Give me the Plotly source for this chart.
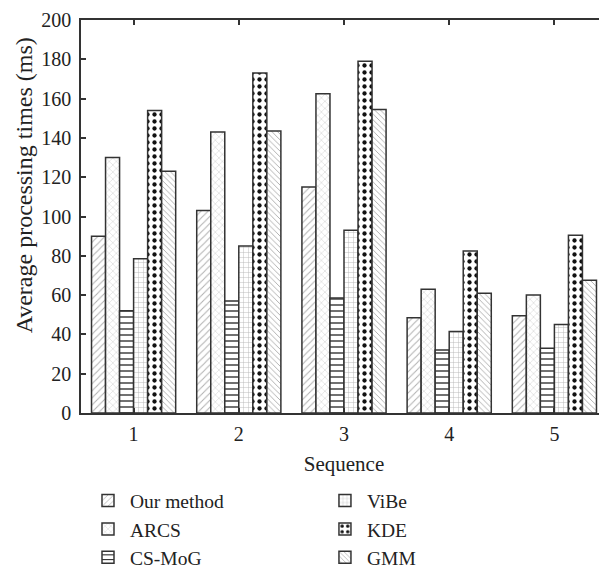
import plotly.graph_objects as go

sequences = [1, 2, 3, 4, 5]
our_method = [90, 103, 115, 48.5, 49.5]
arcs = [130, 143, 162.5, 63, 60]
cs_mog = [52, 57, 58.5, 32, 33]
vibe = [78.5, 85, 93, 41.5, 45]
kde = [154, 173, 179, 82.5, 90.5]
gmm = [123, 143.5, 154.5, 61, 67.5]

series = [
    ("Our method", our_method, dict(shape="/", fgcolor="#b0b0b0", size=5, solidity=0.2), "legend"),
    ("ARCS", arcs, dict(shape="x", fgcolor="#d0d0d0", size=5, solidity=0.2), "legend"),
    ("CS-MoG", cs_mog, dict(shape="-", fgcolor="#111111", size=6, solidity=0.2), "legend"),
    ("ViBe", vibe, dict(shape="+", fgcolor="#b8b8b8", size=5, solidity=0.18), "legend2"),
    ("KDE", kde, dict(shape=".", fgcolor="#111111", size=7, solidity=0.3), "legend2"),
    ("GMM", gmm, dict(shape="\\", fgcolor="#a8a8a8", size=4, solidity=0.22), "legend2"),
]

fig = go.Figure()
for name, vals, pat, lg in series:
    p = dict(pat)
    p["bgcolor"] = "white"
    p["fillmode"] = "replace"
    fig.add_trace(go.Bar(
        x=sequences, y=vals, name=name, legend=lg,
        marker=dict(color="white", pattern=p, line=dict(color="#333333", width=1.5)),
    ))

tick_font = dict(family="Liberation Serif", size=20, color="#222222")
font = dict(family="Liberation Serif", size=21, color="#222222")
leg_font = dict(family="Liberation Serif", size=19.5, color="#222222")
fig.update_layout(
    width=599, height=560,
    margin=dict(l=73, r=0, t=12, b=155, autoexpand=False),
    paper_bgcolor="white", plot_bgcolor="white",
    barmode="group", bargap=0.2, bargroupgap=0,
    font=font,
    showlegend=True,
    legend=dict(x=0.0095, y=-0.174, xanchor="left", yanchor="top", orientation="v",
                font=leg_font, itemwidth=34, tracegroupgap=0, bgcolor="rgba(0,0,0,0)"),
    legend2=dict(x=0.46, y=-0.174, xanchor="left", yanchor="top", orientation="v",
                 font=leg_font, itemwidth=34, tracegroupgap=0, bgcolor="rgba(0,0,0,0)"),
    annotations=[dict(
        text="Average processing times (ms)", textangle=-90,
        xref="paper", yref="paper", x=-0.1093, y=0.578,
        xanchor="center", yanchor="middle", showarrow=False,
        font=dict(family="Liberation Serif", size=24, color="#222222"),
    )],
)
fig.update_xaxes(
    range=[0.5, 5.5], tickvals=sequences, ticktext=[str(s) for s in sequences],
    showline=True, linecolor="#333333", linewidth=1.5, mirror="ticks",
    ticks="inside", ticklen=5, tickcolor="#333333", tickwidth=1.5,
    showgrid=False, zeroline=False, automargin=False, tickfont=tick_font,
    ticklabelstandoff=2,
    title=dict(text="Sequence", font=font, standoff=13),
)
fig.update_yaxes(
    range=[0, 200], dtick=20,
    showline=True, linecolor="#333333", linewidth=1.5, mirror="ticks",
    ticks="inside", ticklen=5, tickcolor="#333333", tickwidth=1.5,
    showgrid=False, zeroline=False, automargin=False, tickfont=tick_font,
    ticklabelstandoff=4,
)
fig.write_html("out.html")
